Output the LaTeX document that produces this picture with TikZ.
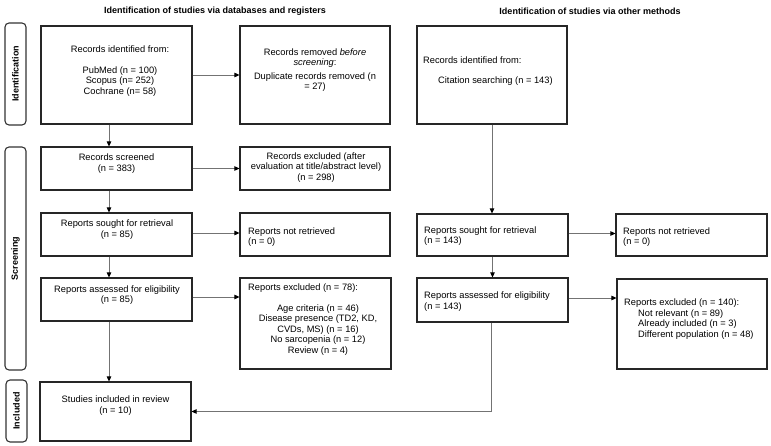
\documentclass[tikz,border=0pt]{standalone}
\usepackage{fontspec}
\setmainfont{Liberation Sans}
\usetikzlibrary{arrows.meta,calc}
\begin{document}
\begin{tikzpicture}[x=1pt,y=-1pt,
  box/.style={draw=black!85,line width=1.1pt,inner sep=0pt,fill=white},
  side/.style={draw=black!80,line width=1.1pt,rounded corners=4pt,inner sep=0pt,font=\fontsize{9}{10}\selectfont\bfseries},
  txt/.style={inner sep=0pt,font=\fontsize{9.3}{10.5}\selectfont},
  head/.style={inner sep=0pt,font=\fontsize{9}{10}\selectfont\bfseries},
  arr/.style={draw=black!55,line width=0.8pt,-{Triangle[length=5pt,width=4.5pt,color=black]}},
  ln/.style={draw=black!55,line width=0.8pt}]
\useasboundingbox (0,0) rectangle (771,446);
% headers
\node[head] (h1) at (215,11) {Identification of studies via databases and registers};
\node[head] (h2) at (590,11) {Identification of studies via other methods};
% side labels
\node[side,rotate=90,minimum width=102pt,minimum height=21pt] (sid) at (15.5,74) {Identification};
\node[side,rotate=90,minimum width=223pt,minimum height=21pt] (sscr) at (15.5,258.5) {Screening};
\node[side,rotate=90,minimum width=62pt,minimum height=21pt] (sinc) at (16.5,411) {Included};
% left column boxes
\node[box,minimum width=151pt,minimum height=98pt] (b1) at (116.5,75) {};
\node[box,minimum width=150pt,minimum height=98pt] (rem) at (315,75) {};
\node[box,minimum width=151pt,minimum height=43pt] (scr) at (116.5,168.5) {};
\node[box,minimum width=150pt,minimum height=43pt] (exc) at (315,168.5) {};
\node[box,minimum width=151pt,minimum height=43pt] (sought) at (116.5,234.5) {};
\node[box,minimum width=150pt,minimum height=43pt] (notret) at (315,234.5) {};
\node[box,minimum width=151pt,minimum height=43pt] (assess) at (116.5,299.5) {};
\node[box,minimum width=151pt,minimum height=91pt] (exc78) at (315.5,323.5) {};
\node[box,minimum width=151pt,minimum height=59pt] (studies) at (115.5,411.5) {};
% right column boxes
\node[box,minimum width=150pt,minimum height=98pt] (rb1) at (492,75) {};
\node[box,minimum width=151pt,minimum height=42pt] (rsought) at (492.5,235) {};
\node[box,minimum width=151pt,minimum height=42pt] (rnot) at (691.5,235) {};
\node[box,minimum width=151pt,minimum height=44pt] (rassess) at (492.5,300) {};
\node[box,minimum width=150pt,minimum height=90pt] (rexc) at (692,324) {};
% texts left
\node[txt,align=center] (t1) at (120,71) {Records identified from:\\[10.5pt]PubMed (n = 100)\\Scopus (n= 252)\\Cochrane (n= 58)};
\node[txt,align=center] (t2) at (315,70) {Records removed \textit{before}\\\textit{screening}:\\[3pt]Duplicate records removed (n\\= 27)};
\node[txt,align=center] (t3) at (116.5,163.5) {Records screened\\(n = 383)};
\node[txt,align=center] (t4) at (316,167.5) {Records excluded (after\\evaluation at title/abstract level)\\(n = 298)};
\node[txt,align=center] (t5) at (117,229.5) {Reports sought for retrieval\\(n = 85)};
\node[txt,align=left,anchor=west] (t6) at (248,237) {Reports not retrieved\\(n = 0)};
\node[txt,align=center] (t7) at (117,295) {Reports assessed for eligibility\\(n = 85)};
\node[txt,anchor=west] (t8) at (248,288) {Reports excluded (n = 78):};
\node[txt,align=center] (t9) at (318,330) {Age criteria (n = 46)\\Disease presence (TD2, KD,\\CVDs, MS) (n = 16)\\No sarcopenia (n = 12)\\Review (n = 4)};
\node[txt,align=center] (t10) at (115.5,405.5) {Studies included in review\\(n = 10)};
% texts right
\node[txt,align=left,anchor=west] (t11) at (423,71) {Records identified from:\\[9.5pt]\hspace*{15pt}Citation searching (n = 143)};
\node[txt,align=left,anchor=west] (t12) at (424,236) {Reports sought for retrieval\\(n = 143)};
\node[txt,align=left,anchor=west] (t13) at (623,237) {Reports not retrieved\\(n = 0)};
\node[txt,align=left,anchor=west] (t14) at (424,301.5) {Reports assessed for eligibility\\(n = 143)};
\node[txt,align=left,anchor=west] (t15) at (624,319) {Reports excluded (n = 140):\\\hspace*{14pt}Not relevant (n = 89)\\\hspace*{14pt}Already included (n = 3)\\\hspace*{14pt}Different population (n = 48)};
% connectors left
\draw[arr] ([xshift=-7.5pt]b1.south) coordinate (c1) -- (c1 |- scr.north);
\draw[arr] (b1.east) -- (rem.west);
\draw[arr] ([xshift=-7.5pt]scr.south) coordinate (c2) -- (c2 |- sought.north);
\draw[arr] (scr.east) -- (exc.west);
\draw[arr] ([xshift=-7.5pt]sought.south) coordinate (c3) -- (c3 |- assess.north);
\draw[arr] ([yshift=1.5pt]sought.east) coordinate (c4) -- (c4 -| notret.west);
\draw[arr] ([yshift=2.5pt]assess.east) coordinate (c5) -- (c5 -| exc78.west);
\draw[arr] ([xshift=-7.5pt]assess.south) coordinate (c6) -- (c6 |- studies.north);
% connectors right
\draw[arr] (rb1.south) coordinate (c7) -- (c7 |- rsought.north);
\draw[arr] ([yshift=1.5pt]rsought.east) coordinate (c8) -- (c8 -| rnot.west);
\draw[arr] (rsought.south) coordinate (c9) -- (c9 |- rassess.north);
\draw[arr] ([yshift=2pt]rassess.east) coordinate (c10) -- (c10 -| rexc.west);
\draw[arr] ([xshift=-1pt]rassess.south) coordinate (c11) -- (c11 |- studies.east) -- (studies.east);
\end{tikzpicture}
\end{document}
